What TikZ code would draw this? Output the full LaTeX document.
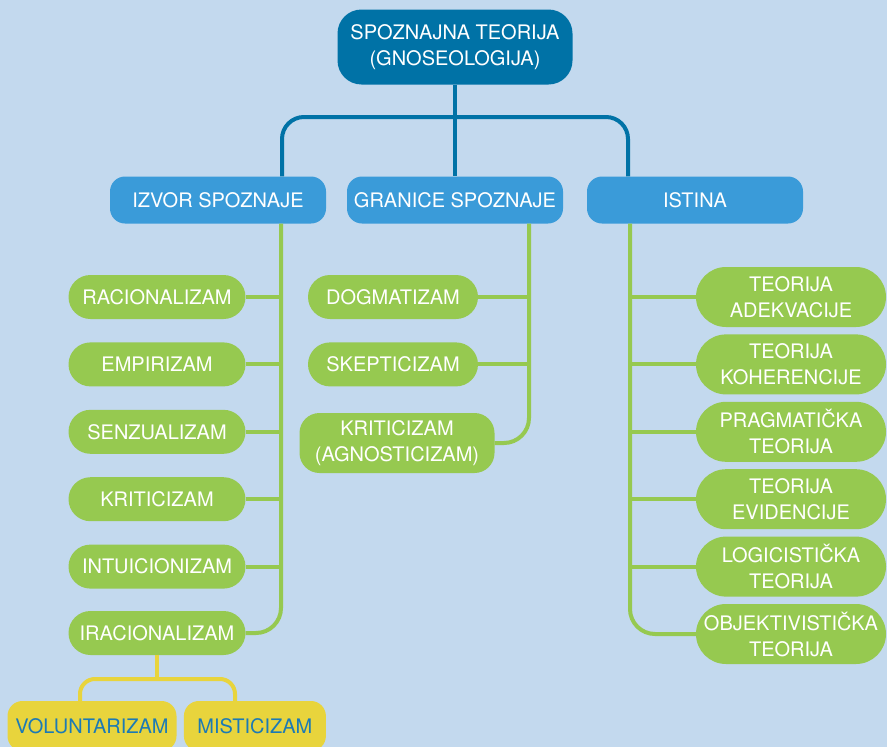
\documentclass[tikz,border=0pt]{standalone}
\usepackage{fontspec}
\setmainfont{TeX Gyre Heros}
\usepackage{tikz}
\usetikzlibrary{positioning}
\definecolor{bg}{RGB}{195, 217, 238}
\definecolor{darkblue}{RGB}{0, 114, 166}
\definecolor{midblue}{RGB}{58, 155, 217}
\definecolor{leafgreen}{RGB}{150, 201, 80}
\definecolor{yel}{RGB}{232, 212, 60}
\definecolor{yeltext}{RGB}{28, 122, 181}
\tikzstyle{root} = [draw=none, fill=darkblue, text=white, align=center, rounded corners=24pt, minimum width=235pt, minimum height=75pt, font=\fontsize{20}{26}\selectfont]
\tikzstyle{cat} = [draw=none, fill=midblue, text=white, align=center, rounded corners=15pt, minimum width=216pt, minimum height=47pt, font=\fontsize{20}{26}\selectfont]
\tikzstyle{leaf} = [draw=none, fill=leafgreen, text=white, align=center, rounded corners=22pt, minimum height=44pt, inner sep=2pt, font=\fontsize{20}{26}\selectfont]
\tikzstyle{leaftwo} = [leaf, rounded corners=30pt, minimum width=190pt, minimum height=60pt]
\tikzstyle{yleaf} = [draw=none, fill=yel, text=yeltext, align=center, rounded corners=15pt, minimum height=50pt, inner sep=2pt, font=\fontsize{20}{26}\selectfont]
\tikzstyle{bedge} = [draw=darkblue, line width=4pt]
\tikzstyle{gedge} = [draw=leafgreen, line width=4pt]
\tikzstyle{yedge} = [draw=yel, line width=4pt]

\begin{document}
\begin{tikzpicture}[x=1pt, y=-1pt]
\fill[bg] (0,0) rectangle (887,747);
\useasboundingbox (0,0) rectangle (887,747);

% top =============================
\node[root] (spoz) at (455,47) {SPOZNAJNA TEORIJA\\(GNOSEOLOGIJA)};
\node[cat] (izvor) at (218,200) {IZVOR SPOZNAJE};
\node[cat] (granice) at (455,200) {GRANICE SPOZNAJE};
\node[cat] (istina) at (695,200) {ISTINA};
\coordinate (bar) at (455,117);

% izvor spoznaje
\node[leaf, minimum width=177pt] (racion) at (157,297) {RACIONALIZAM};
\node[leaf, minimum width=177pt, below=23pt of racion] (empir) {EMPIRIZAM};
\node[leaf, minimum width=177pt, below=23pt of empir] (senzual) {SENZUALIZAM};
\node[leaf, minimum width=177pt, below=23pt of senzual] (kritic) {KRITICIZAM};
\node[leaf, minimum width=177pt, below=23pt of kritic] (intuic) {INTUICIONIZAM};
\node[leaf, minimum width=177pt, below=22pt of intuic] (iracion) {IRACIONALIZAM};

% iracionalizam
\node[yleaf, minimum width=169pt] (volunt) at (92,726) {VOLUNTARIZAM};
\node[yleaf, minimum width=142pt, right=7pt of volunt] (mistic) {MISTICIZAM};
\coordinate (ybar) at (157,679);

% granice spoznaje
\node[leaf, minimum width=170pt] (dogm) at (393,297) {DOGMATIZAM};
\node[leaf, minimum width=170pt, below=23pt of dogm] (skept) {SKEPTICIZAM};
\node[leaf, minimum width=195pt, minimum height=60pt, rounded corners=20pt] (kritag) at (397,443) {KRITICIZAM\\(AGNOSTICIZAM)};

% istina
\node[leaftwo] (adek) at (791,297) {TEORIJA\\ADEKVACIJE};
\node[leaftwo, below=7pt of adek] (koher) {TEORIJA\\KOHERENCIJE};
\node[leaftwo, below=7pt of koher] (pragm) {PRAGMATIČKA\\TEORIJA};
\node[leaftwo, below=7pt of pragm] (evid) {TEORIJA\\EVIDENCIJE};
\node[leaftwo, below=7pt of evid] (logic) {LOGICISTIČKA\\TEORIJA};
\node[leaftwo, below=7pt of logic] (objekt) {OBJEKTIVISTIČKA\\TEORIJA};

%edges top
\path[bedge] (spoz) -- (granice);
\path[bedge, rounded corners=22pt] ([xshift=64pt]izvor.north) |- (bar) -| ([xshift=-67pt]istina.north);

%edges izvor
\coordinate (lspine) at ([xshift=63pt]izvor.south);
\path[gedge, rounded corners=25pt] (lspine) |- (iracion.east);
\foreach \n in {racion,empir,senzual,kritic,intuic}
  \path[gedge] (\n.east) -- (\n.east -| lspine);

%edges iracionalizam
\path[yedge] (iracion.south) -- (ybar);
\path[yedge, rounded corners=15pt] (volunt.north -| 80,0) |- (ybar) -| (mistic.north -| 235,0);

%edges granice
\coordinate (mspine) at ([xshift=74pt]granice.south);
\path[gedge, rounded corners=25pt] (mspine) |- (kritag.east);
\foreach \n in {dogm,skept}
  \path[gedge] (\n.east) -- (\n.east -| mspine);

%edges istina
\coordinate (rspine) at ([xshift=-65pt]istina.south);
\path[gedge, rounded corners=25pt] (rspine) |- (objekt.west);
\foreach \n in {adek,koher,pragm,evid,logic}
  \path[gedge] (\n.west -| rspine) -- (\n.west);

\end{tikzpicture}
\end{document}
